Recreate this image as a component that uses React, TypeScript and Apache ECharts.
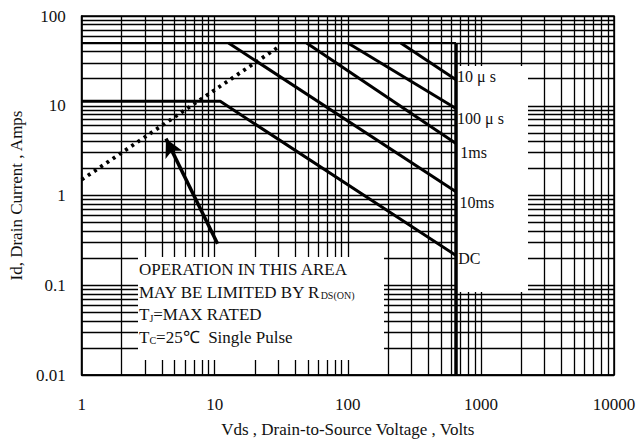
import React, { useEffect, useRef } from 'react';
import * as echarts from 'echarts';

// ---- data ----
const xTickLabels = ['1', '10', '100', '1000', '10000'];
const yTickLabels = ['0.01', '0.1', '1', '10', '100'];

const dcV = [1, 11, 650];
const dcI = [11.2, 11.2, 0.215];
const ms10V = [12.7, 650];
const ms10I = [50, 1.1];
const ms1V = [49, 650];
const ms1I = [50, 3.8];
const us100V = [100, 650];
const us100I = [50, 9.3];
const us10V = [250, 650];
const us10I = [50, 19.5];
const rdsV = [1, 30];
const rdsI = [1.5, 45];
const vdssV = [650, 650];
const vdssI = [0.01, 50];
const idmV = [1, 650];
const idmI = [50, 50];
const arrowFrom = [10.5, 0.29];
const arrowTo = [4.3, 4.3];

const curveLabels = ['10 \u03bc s', '100 \u03bc s', '1ms', '10ms', 'DC'];
const curveLabelI = [21, 7.2, 3.0, 0.84, 0.2];
const curveLabelV = [662, 662, 700, 690, 676];

const noteLines = [
  '{n|OPERATION IN THIS AREA}',
  '{n|MAY BE LIMITED BY R}{s|DS(ON)}',
  '{n|T}{s|J}{n|=MAX RATED}',
  '{n|T}{s|C}{n|=25\u2103  Single Pulse}',
];

const FONT = 'Liberation Serif, serif';

const zip = (a: number[], b: number[]) => a.map((v, i) => [v, b[i]]);

function minorValues(lo: number, hi: number) {
  const out: number[] = [];
  for (let d = lo; d < hi; d *= 10) {
    for (let k = 2; k <= 9; k++) out.push(+(d * k).toPrecision(3));
  }
  return out;
}

export default function App() {
  const ref = useRef<HTMLDivElement>(null);
  useEffect(() => {
    document.body.style.margin = '0';
    const chart = echarts.init(ref.current!, null, { renderer: 'svg' });
    const lineSeries = (name: string, v: number[], i: number[], extra: any = {}) => ({
      name,
      type: 'line',
      data: zip(v, i),
      symbol: 'none',
      z: 5,
      silent: true,
      lineStyle: { color: '#000', width: 3, ...(extra.lineStyle || {}) },
    });
    const gridLines = [
      ...minorValues(1, 10000).map((v) => ({ xAxis: v })),
      ...minorValues(0.01, 100).map((v) => ({ yAxis: v })),
    ];
    chart.setOption({
      animation: false,
      backgroundColor: '#fff',
      textStyle: { fontFamily: FONT },
      grid: { left: 74, right: 29, top: 16, bottom: 68, show: true, borderColor: '#000', borderWidth: 1.5 },
      xAxis: {
        type: 'log',
        logBase: 10,
        min: 1,
        max: 10000,
        axisLine: { show: true, lineStyle: { color: '#000', width: 1.5 } },
        axisTick: { show: false },
        axisLabel: {
          color: '#111',
          fontFamily: FONT,
          fontSize: 17,
          margin: 21,
          formatter: (v: number) => xTickLabels[Math.round(Math.log10(v))],
        },
        splitLine: { show: true, lineStyle: { color: '#000', width: 1.3 } },
        name: 'Vds , Drain-to-Source Voltage , Volts',
        nameLocation: 'middle',
        nameGap: 46,
        nameTextStyle: { color: '#111', fontFamily: FONT, fontSize: 17 },
      },
      yAxis: {
        type: 'log',
        logBase: 10,
        min: 0.01,
        max: 100,
        axisLine: { show: true, lineStyle: { color: '#000', width: 1.5 } },
        axisTick: { show: false },
        axisLabel: {
          color: '#111',
          fontFamily: FONT,
          fontSize: 17,
          margin: 16,
          formatter: (v: number) => yTickLabels[Math.round(Math.log10(v)) + 2],
        },
        splitLine: { show: true, lineStyle: { color: '#000', width: 1.3 } },
        name: 'Id, Drain Current , Amps',
        nameLocation: 'middle',
        nameGap: 52,
        nameRotate: 90,
        nameTextStyle: { color: '#111', fontFamily: FONT, fontSize: 17 },
      },
      series: [
        {
          type: 'line',
          data: [],
          z: 1,
          silent: true,
          markLine: {
            z: 1,
            silent: true,
            symbol: 'none',
            animation: false,
            label: { show: false },
            lineStyle: { color: '#000', width: 1.3, type: 'solid' },
            data: gridLines,
          },
        },
        lineSeries('idm', idmV, idmI, { lineStyle: { width: 2.2 } }),
        lineSeries('vdss', vdssV, vdssI, { lineStyle: { width: 3.5 } }),
        lineSeries('DC', dcV, dcI),
        lineSeries('10ms', ms10V, ms10I),
        lineSeries('1ms', ms1V, ms1I),
        lineSeries('100us', us100V, us100I),
        lineSeries('10us', us10V, us10I),
        lineSeries('rds', rdsV, rdsI, { lineStyle: { width: 3.8, type: [3, 4.5], cap: 'butt' } }),
        {
          type: 'line',
          data: [],
          z: 6,
          silent: true,
          markLine: {
            z: 6,
            silent: true,
            animation: false,
            symbol: ['none', 'arrow'],
            symbolSize: [14, 18],
            label: { show: false },
            lineStyle: { color: '#000', width: 3.5, type: 'solid' },
            data: [[{ coord: arrowFrom }, { coord: arrowTo }]],
          },
        },
      ],
    });

    const px = (v: number, i: number) => chart.convertToPixel({ gridIndex: 0 }, [v, i]) as number[];
    const elements: any[] = [];
    // white boxes behind annotations
    elements.push({ type: 'rect', z: 3, silent: true, shape: { x: 138, y: 257, width: 246, height: 103 }, style: { fill: '#fff' } });
    elements.push({ type: 'rect', z: 3, silent: true, shape: { x: 456, y: 66, width: 72, height: 226 }, style: { fill: '#fff' } });
    curveLabels.forEach((t, k) => {
      const [x, y] = px(curveLabelV[k], curveLabelI[k]);
      elements.push({
        type: 'text',
        z: 7,
        z2: 50,
        silent: true,
        x,
        y,
        style: { text: t, fill: '#111', fontSize: 16, fontFamily: FONT, verticalAlign: 'middle' },
      });
    });
    noteLines.forEach((t, k) => {
      elements.push({
        type: 'text',
        z: 7,
        z2: 50,
        silent: true,
        x: 139,
        y: 268 + k * 22.5,
        style: {
          text: t,
          fontFamily: FONT,
          verticalAlign: 'middle',
          rich: {
            n: { fontFamily: FONT, fontSize: 17, fill: '#111', lineHeight: 20, verticalAlign: 'bottom' },
            s: { fontFamily: FONT, fontSize: 10, fill: '#111', lineHeight: 12, verticalAlign: 'bottom' },
          },
        },
      });
    });
    chart.setOption({ graphic: { z: 3, zlevel: 0, elements } });
    return () => chart.dispose();
  }, []);
  return <div ref={ref} style={{ width: 643, height: 443 }} />;
}
